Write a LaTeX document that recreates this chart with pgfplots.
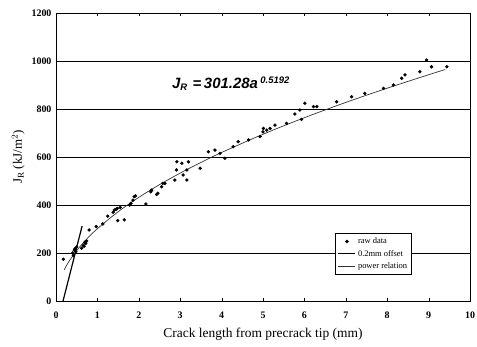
\documentclass[border=0pt]{standalone}
\usepackage{fontspec}
\setmainfont{Liberation Serif}
\newfontfamily\eqfont{Liberation Sans}
\usepackage{pgfplots}
\pgfplotsset{compat=1.18}
\begin{document}
\begin{tikzpicture}
\begin{axis}[name=ax,
  scale only axis, width=414bp, height=288bp,
  xmin=0, xmax=10, ymin=0, ymax=1200,
  xtick={0,1,...,10}, ytick={0,200,...,1200},
  ymajorgrids, grid style={black, line width=0.7pt},
  tick align=inside, major tick length=3bp,
  axis line style={black, line width=0.8pt},
  tick style={black},
  /pgf/number format/assume math mode=true,
  /pgf/number format/1000 sep={},
  ticklabel style={font=\fontsize{10}{11}\selectfont\bfseries},
  xticklabel style={yshift=-7bp},
  yticklabel style={xshift=-1bp},
  xlabel={Crack length from precrack tip (mm)},
  xlabel style={font=\fontsize{13.5}{15}\selectfont, yshift=-3bp},
  ylabel={J$_{\mathrm{R}}$ (kJ/m$^{2}$)},
  ylabel style={font=\fontsize{13}{15}\selectfont, yshift=0bp},
  clip=false,
  legend style={at={(0.674,0.236)}, anchor=north west, draw=black, line width=0.6pt,
    font=\fontsize{8.5}{9.5}\selectfont, fill=white, row sep=1pt, inner sep=2.5pt,
    cells={anchor=west}},
  legend cell align=left,
]
% raw data
\addplot[only marks, mark=*, mark size=1.5bp, black] coordinates {
(0.18,174)(0.40,200)(0.42,190)(0.44,212)(0.46,218)(0.48,205)(0.50,225)
(0.62,220)(0.66,232)(0.68,228)(0.70,245)(0.72,240)(0.74,250)
(0.80,296)(0.97,310)(1.13,321)(1.25,354)(1.38,370)(1.41,379)(1.45,382)(1.48,386)(1.55,390)
(1.49,335)(1.65,338)(1.78,400)(1.81,407)(1.86,420)(1.89,435)(1.92,438)
(2.17,404)(2.29,455)(2.31,462)(2.43,444)(2.46,449)(2.55,476)(2.58,490)(2.63,490)
(2.87,504)(2.91,546)(2.92,580)(3.04,574)(3.07,525)(3.16,546)(3.20,580)(3.16,504)
(3.48,553)(3.68,622)(3.84,629)(3.96,615)(4.08,595)(4.28,643)(4.40,664)(4.65,671)
(4.93,685)(5.00,705)(5.01,719)(5.09,712)(5.17,719)(5.29,733)(5.57,740)(5.77,779)
(5.89,796)(5.93,757)(6.01,824)(6.22,810)(6.30,810)(6.78,830)(7.14,851)(7.46,865)
(7.91,886)(8.15,900)(8.35,928)(8.43,942)(8.79,955)(8.95,1004)(9.07,976)(9.44,976)
};
\addlegendentry{raw data}
% 0.2 mm offset line
\addplot[black, line width=1.2pt] coordinates {(0.17,0)(0.63,312)};
\addlegendentry{0.2mm offset}
% power relation
\addplot[black!80, line width=0.7pt, smooth] coordinates {
(0.2,130.6)(0.3,161.2)(0.5,210.2)(0.75,259.5)(1,301.3)(1.5,371.9)(2,431.8)
(2.5,484.8)(3,532.9)(3.5,577.3)(4,618.9)(5,694.8)(6,763.8)(7,827.4)(8,886.8)
(9,942.7)(9.4,964.3)};
\addlegendentry{power relation}
\node[anchor=base west, inner sep=0pt, font=\eqfont\fontsize{15}{17}\selectfont\bfseries\itshape] at (axis cs:2.80,885)
  {J$_{\textbf{\textit{\fontsize{9.5}{10}\selectfont R}}}$\,\,=\,301.28a\,$^{\textbf{\textit{\fontsize{9.5}{10}\selectfont 0.5192}}}$};
\end{axis}
\pgfresetboundingbox
\path[use as bounding box] ([xshift=-56bp,yshift=-46bp]ax.south west) rectangle ([xshift=7bp,yshift=13bp]ax.north east);
\end{tikzpicture}
\end{document}
